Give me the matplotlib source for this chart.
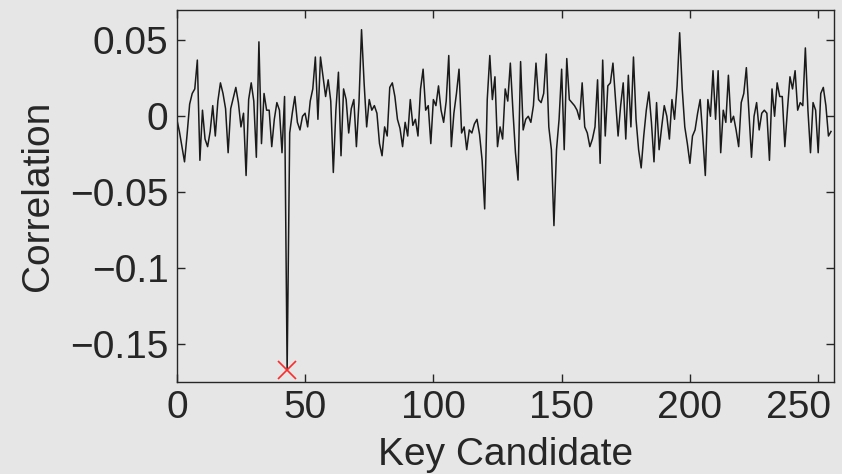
import matplotlib
matplotlib.use("Agg")
import matplotlib.pyplot as plt
from matplotlib.transforms import ScaledTranslation
import numpy as np

# correlation per key candidate
correlation = [
    -0.002, -0.010, -0.020, -0.030, -0.012, 0.008, 0.015, 0.018, 0.037, -0.029,
    0.004, -0.015, -0.020, -0.010, 0.007, -0.013, 0.010, 0.022, 0.015, 0.005,
    -0.024, 0.005, 0.012, 0.019, 0.009, -0.007, 0.002, -0.039, 0.011, 0.022,
    0.010, -0.027, 0.049, -0.018, 0.015, 0.004, 0.004, -0.020, -0.002, 0.009,
    0.004, -0.024, 0.013, -0.167, -0.011, 0.002, 0.013, -0.004, -0.009, 0.000,
    0.002, -0.007, 0.010, 0.018, 0.039, -0.002, 0.039, 0.026, 0.013, 0.024,
    0.010, -0.037, 0.004, 0.029, -0.026, 0.018, 0.011, -0.011, 0.005, 0.011,
    -0.020, 0.009, 0.057, 0.022, -0.007, 0.011, 0.004, 0.007, 0.002, -0.018,
    -0.026, -0.007, -0.013, 0.019, 0.022, 0.013, -0.002, -0.008, -0.020, -0.004,
    -0.013, 0.011, -0.006, -0.002, -0.013, 0.018, 0.031, 0.004, 0.007, -0.018,
    0.011, 0.007, 0.020, 0.004, -0.004, 0.010, 0.040, -0.020, 0.002, 0.015,
    0.031, -0.011, -0.007, -0.022, -0.009, -0.011, -0.005, -0.002, -0.012, -0.029,
    -0.061, 0.011, 0.040, 0.011, 0.026, -0.020, -0.007, -0.015, 0.018, 0.010,
    0.035, 0.004, -0.024, -0.042, 0.036, -0.009, -0.002, 0.000, -0.004, 0.007,
    0.035, 0.011, 0.009, 0.015, 0.041, -0.007, -0.022, -0.072, -0.022, -0.002,
    0.031, -0.022, 0.038, 0.011, 0.009, 0.007, 0.004, -0.002, 0.022, -0.007,
    -0.011, -0.020, -0.015, -0.007, 0.024, -0.031, 0.037, -0.013, 0.020, 0.022,
    0.035, 0.011, -0.013, 0.007, 0.022, -0.015, 0.027, -0.007, 0.039, -0.002,
    -0.022, -0.034, -0.013, 0.004, 0.016, -0.004, -0.030, 0.009, -0.022, -0.007,
    0.007, 0.000, -0.015, 0.011, -0.002, 0.020, 0.055, 0.018, -0.007, -0.018,
    -0.031, -0.013, -0.009, 0.002, 0.011, -0.013, -0.039, 0.011, 0.000, 0.030,
    -0.002, 0.030, -0.024, 0.004, -0.004, 0.027, -0.004, 0.000, -0.009, -0.020,
    0.009, 0.015, 0.032, 0.002, -0.027, 0.000, 0.009, -0.009, 0.002, 0.004,
    0.002, -0.029, 0.018, 0.000, 0.022, 0.013, 0.013, -0.020, 0.004, 0.026,
    0.018, 0.030, 0.004, 0.009, 0.007, 0.045, 0.004, -0.024, 0.009, 0.004,
    -0.024, 0.015, 0.019, 0.007, -0.013, -0.010,
]
keys = np.arange(len(correlation))

x_ticks = [0, 50, 100, 150, 200, 250]
y_ticks = [0.05, 0, -0.05, -0.1, -0.15]
y_tick_labels = ["0.05", "0", "\u22120.05", "\u22120.1", "\u22120.15"]

plt.rcParams["font.family"] = ["Liberation Sans", "DejaVu Sans"]
bg = "#e6e6e6"
ink = "#262626"

fig = plt.figure(figsize=(8.42, 4.74), dpi=100, facecolor=bg)
ax = fig.add_axes([0.210, 0.194, 0.780, 0.785], facecolor=bg)

ax.plot(keys, correlation, color="#1a1a1a", linewidth=1.1)
best = int(np.argmin(correlation))
ax.plot(keys[best], correlation[best], "x", color="#ff2a2a",
        markersize=13, markeredgewidth=1.2, clip_on=False)

ax.set_xlim(0, 256)
ax.set_ylim(-0.175, 0.070)
ax.set_xticks(x_ticks)
ax.set_yticks(y_ticks)
ax.set_yticklabels(y_tick_labels)

ax.tick_params(direction="in", length=6, width=1, colors=ink,
               labelsize=28, top=True, right=True, pad=6)
for spine in ax.spines.values():
    spine.set_edgecolor(ink)
    spine.set_linewidth(1)

# last x label is pulled left so it stays inside the figure
last = ax.get_xticklabels()[-1]
last.set_transform(last.get_transform() + ScaledTranslation(-0.2, 0, fig.dpi_scale_trans))

ax.set_xlabel("Key Candidate", fontsize=28, color=ink, labelpad=8)
ax.set_ylabel("Correlation", fontsize=28, color=ink, labelpad=10)

fig.savefig("out.png", dpi=100, facecolor=bg)
